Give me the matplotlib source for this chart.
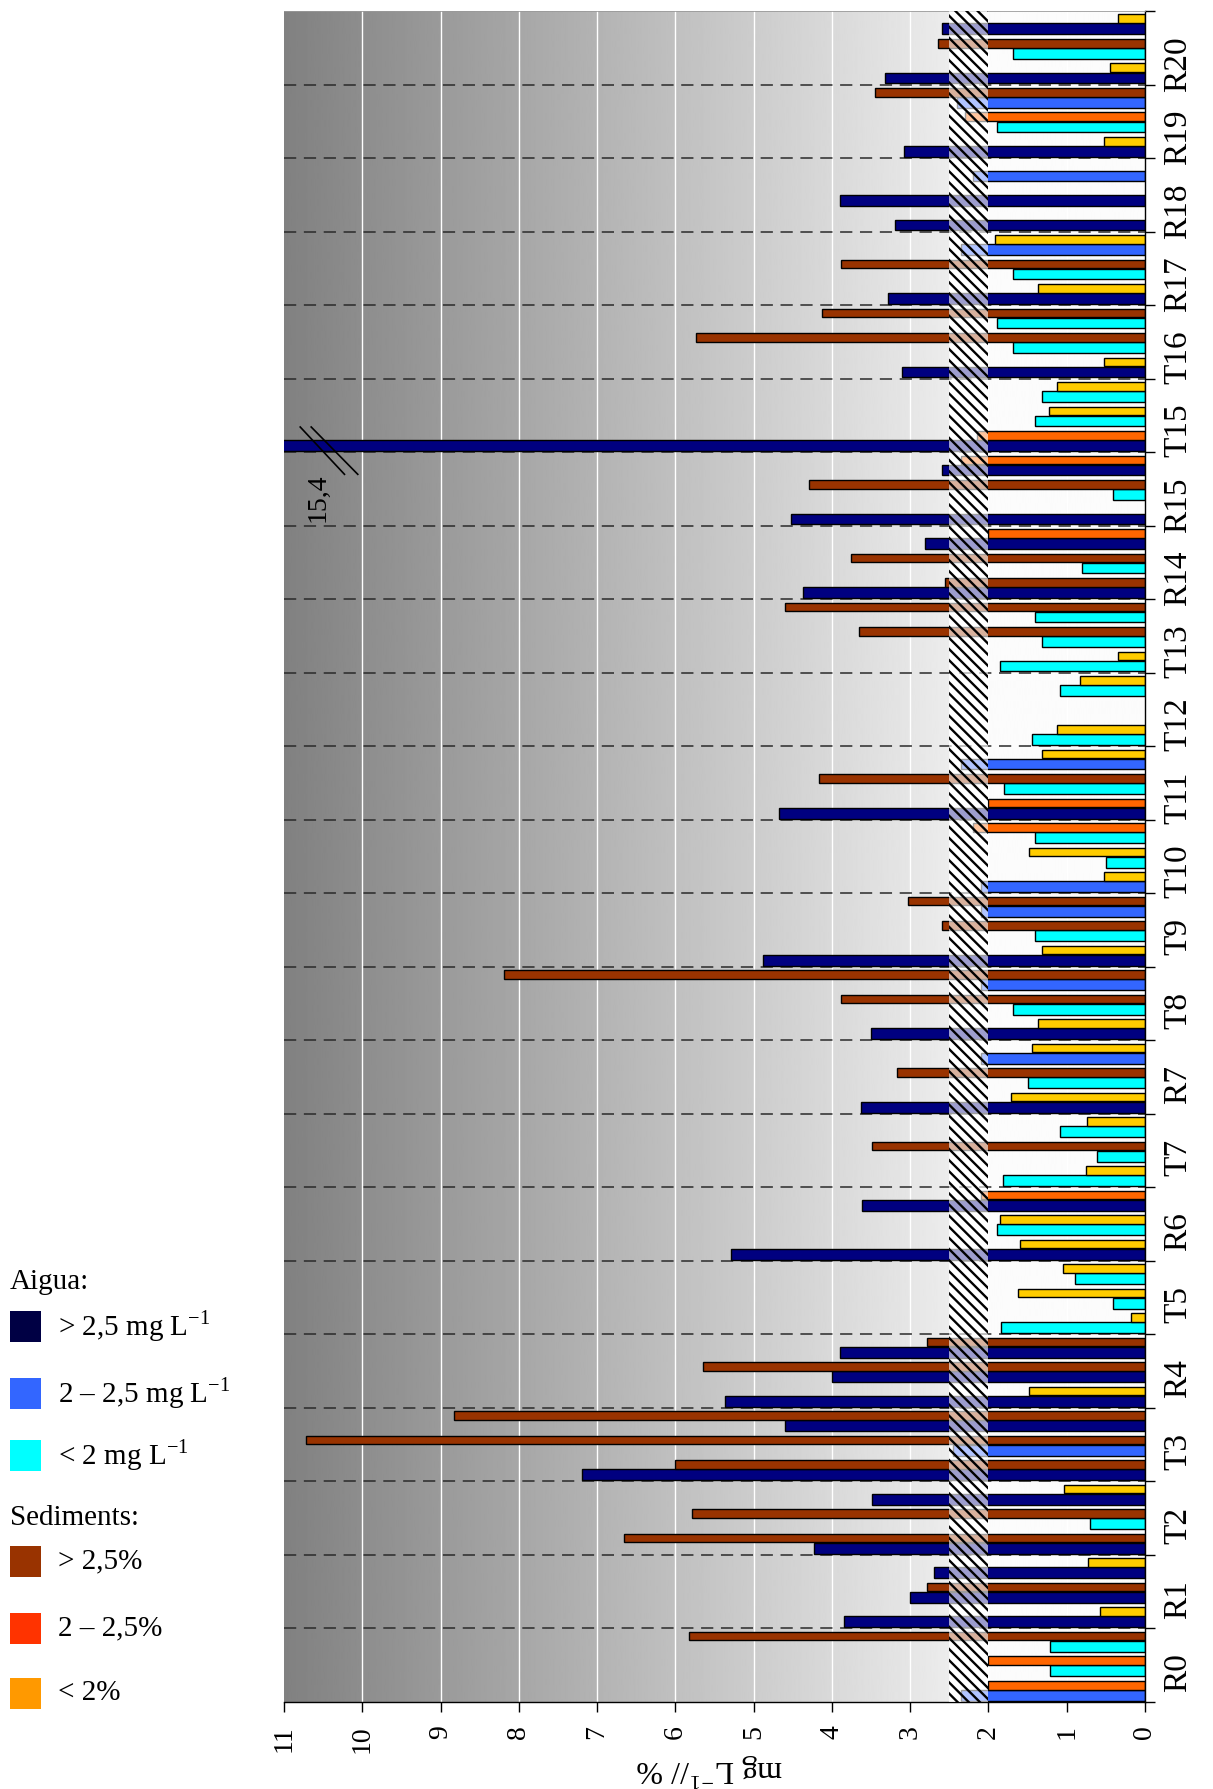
import numpy as np
import matplotlib
matplotlib.use("Agg")
import matplotlib.pyplot as plt
from matplotlib.patches import Rectangle

plt.rcParams["font.family"] = ["Liberation Serif", "DejaVu Serif"]
plt.rcParams["mathtext.fontset"] = "custom"
plt.rcParams["mathtext.rm"] = "Liberation Serif"
plt.rcParams["hatch.linewidth"] = 1.7

# Sampling sites, bottom to top
groups = ["R0", "R1", "T2", "T3", "R4", "T5", "R6", "T7", "R7", "T8", "T9",
          "T10", "T11", "T12", "T13", "R14", "R15", "T15", "T16", "R17",
          "R18", "R19", "R20"]

nan = np.nan
# Three campaigns per site (first, second, third); water in mg L-1
water = [
    [2.35, 1.21, 1.21],   # R0
    [3.84, 3.00, 2.69],   # R1
    [4.23, 0.70, 3.49],   # T2
    [7.19, 2.45, 4.60],   # T3
    [5.36, 4.00, 3.90],   # R4
    [1.84, 0.41, 0.90],   # T5
    [5.29, 1.89, 3.61],   # R6
    [1.81, 0.61, 1.09],   # T7
    [3.63, 1.50, 2.10],   # R7
    [3.50, 1.69, 2.10],   # T8
    [4.88, 1.40, 2.10],   # T9
    [2.10, 0.50, 1.40],   # T10
    [4.67, 1.80, 2.35],   # T11
    [1.44, nan, 1.09],    # T12
    [1.85, 1.31, 1.40],   # T13
    [4.37, 0.80, 2.81],   # R14
    [4.52, 0.41, 2.59],   # R15
    [15.4, 1.40, 1.31],   # T15
    [3.10, 1.69, 1.89],   # T16
    [3.28, 1.69, 2.35],   # R17
    [3.20, 3.90, 2.20],   # R18
    [3.08, 1.89, 2.40],   # R19
    [3.32, 1.69, 2.59],   # R20
]
# Sediments in %
sediment = [
    [2.00, 2.00, 5.83],   # R0
    [0.58, 2.78, 0.73],   # R1
    [6.65, 5.79, 1.03],   # T2
    [6.00, 10.72, 8.83],  # T3
    [1.48, 5.65, 2.78],   # R4
    [0.18, 1.62, 1.05],   # T5
    [1.60, 1.85, 2.10],   # R6
    [0.76, 3.49, 0.74],   # T7
    [1.71, 3.17, 1.44],   # R7
    [1.37, 3.88, 8.19],   # T8
    [1.31, 2.59, 3.03],   # T9
    [0.52, 1.48, 2.20],   # T10
    [2.00, 4.17, 1.31],   # T11
    [1.13, nan, 0.83],    # T12
    [0.35, 3.66, 4.60],   # T13
    [2.55, 3.76, 2.00],   # R14
    [nan, 4.29, 2.35],    # R15
    [2.15, 1.23, 1.13],   # T15
    [0.52, 5.73, 4.13],   # T16
    [1.37, 3.88, 1.91],   # R17
    [nan, nan, nan],      # R18
    [0.52, 2.30, 3.45],   # R19
    [0.45, 2.64, 0.35],   # R20
]

x_ticks = list(range(0, 12))
x_max = 11
axis_label = r"mg L$^{\mathregular{-1}}$// %"

water_legend = [r"> 2,5 mg L$^{\mathregular{-1}}$", r"2 – 2,5 mg L$^{\mathregular{-1}}$",
                r"< 2 mg L$^{\mathregular{-1}}$"]
sediment_legend = ["> 2,5%", "2 – 2,5%", "< 2%"]


def water_color(v):
    if v > 2.5:
        return "#000080"
    if v >= 2.0:
        return "#3366ff"
    return "#00ffff"


def sediment_color(v):
    if v > 2.5:
        return "#993300"
    if v >= 2.0:
        return "#ff6600"
    return "#ffcc00"


W, H = 1213, 1789
fig = plt.figure(figsize=(W / 100, H / 100), dpi=100)
L, R, B, T = 284, 1145, 1702, 11
ax = fig.add_axes([L / W, 1 - B / H, (R - L) / W, (B - T) / H])

# grey background fading towards the zero line
xs = np.linspace(0, x_max, 1101)
shade = np.where(xs < 2, 0.985,
                 np.where(xs < 2.5, 1.0, 0.925 - (xs - 2.5) * 0.42 / 8.5))
ax.imshow(shade[None, :], extent=[0, x_max, 0, len(groups)], origin="lower",
          cmap="gray", vmin=0, vmax=1, aspect="auto",
          interpolation="bilinear", zorder=0)
ax.set_xlim(x_max, 0)
ax.set_ylim(0, len(groups))

for v in range(1, x_max):
    ax.axvline(v, color="white", lw=1, zorder=1)
for b in range(1, len(groups)):
    ax.axhline(b, color="#2a2a2a", lw=1.1, ls=(0, (8, 5)), zorder=1.5)

# bars: each campaign takes a third of the site slot, water below sediment
slot = 1 / 3
wy, ww, wc = [], [], []
sy, sw, sc = [], [], []
for i in range(len(groups)):
    for j in range(3):
        base = i + j * slot
        w = water[i][j]
        s = sediment[i][j]
        if not np.isnan(w):
            wy.append(base + 0.27 * slot)
            ww.append(w)
            wc.append(water_color(w))
        if not np.isnan(s):
            sy.append(base + 0.685 * slot)
            sw.append(s)
            sc.append(sediment_color(s))

ax.barh(wy, ww, height=0.44 * slot, color=wc, edgecolor="black", lw=1.0, zorder=2)
ax.barh(sy, sw, height=0.35 * slot, color=sc, edgecolor="black", lw=1.0, zorder=2)

# hatched threshold band between 2 and 2.5
ax.add_patch(Rectangle((2.0, 0), 0.5, len(groups), facecolor=(1, 1, 1, 0.62),
                       edgecolor="black", lw=0, hatch="\\\\\\", zorder=3))

# axis break on the off-scale bar
for i in range(len(groups)):
    for j in range(3):
        w = water[i][j]
        if not np.isnan(w) and w > x_max:
            yc = i + j * slot + 0.27 * slot
            for x0, x1 in [(10.80, 10.22), (10.66, 10.05)]:
                ax.plot([x0, x1], [yc + 0.26, yc - 0.40], color="black",
                        lw=1.2, zorder=4, solid_capstyle="butt")
            ax.text(10.57, yc - 0.71, f"{w:.1f}".replace(".", ","), rotation=90,
                    ha="center", va="center", fontsize=20, zorder=5)

ax.set_xticks(x_ticks)
ax.set_xticklabels([str(t) for t in x_ticks])
ax.tick_params(axis="x", direction="out", length=7, width=1, pad=10,
               labelsize=20, labelrotation=90)

ax.yaxis.tick_right()
ax.set_yticks(np.arange(len(groups) + 1))
ax.set_yticklabels([])
ax.set_yticks(np.arange(len(groups)) + 0.5, minor=True)
ax.set_yticklabels(groups, minor=True)
ax.tick_params(axis="y", which="major", direction="out", length=7, width=1)
ax.tick_params(axis="y", which="minor", length=0, pad=13, labelsize=24,
               labelrotation=90)

ax.spines["left"].set_visible(False)
ax.spines["top"].set_color("#999999")
ax.spines["top"].set_linewidth(0.6)
for side in ("right", "bottom"):
    ax.spines[side].set_color("black")
    ax.spines[side].set_linewidth(1)

fig.text(710 / W, 1 - 1770 / H, axis_label, rotation=180, ha="center",
         va="center", fontsize=23)

# legend drawn in pixel positions of the figure
def fx(px):
    return px / W


def fy(py):
    return 1 - py / H


def legend_block(title, title_base, tops, labels, colors):
    fig.text(fx(10), fy(title_base), title, ha="left", va="baseline", fontsize=21)
    for top, lab, col in zip(tops, labels, colors):
        fig.patches.append(Rectangle((fx(10), fy(top + 31)), 31 / W, 31 / H,
                                     transform=fig.transFigure, facecolor=col,
                                     edgecolor="none"))
        fig.text(fx(58), fy(top + 15.5), lab, ha="left", va="center", fontsize=21)


legend_block("Aigua:", 1289, [1311, 1378, 1440], water_legend,
             ["#000044", "#3366ff", "#00ffff"])
legend_block("Sediments:", 1525, [1546, 1613, 1678], sediment_legend,
             ["#993300", "#ff3300", "#ff9900"])

fig.savefig("out.png", dpi=100)
